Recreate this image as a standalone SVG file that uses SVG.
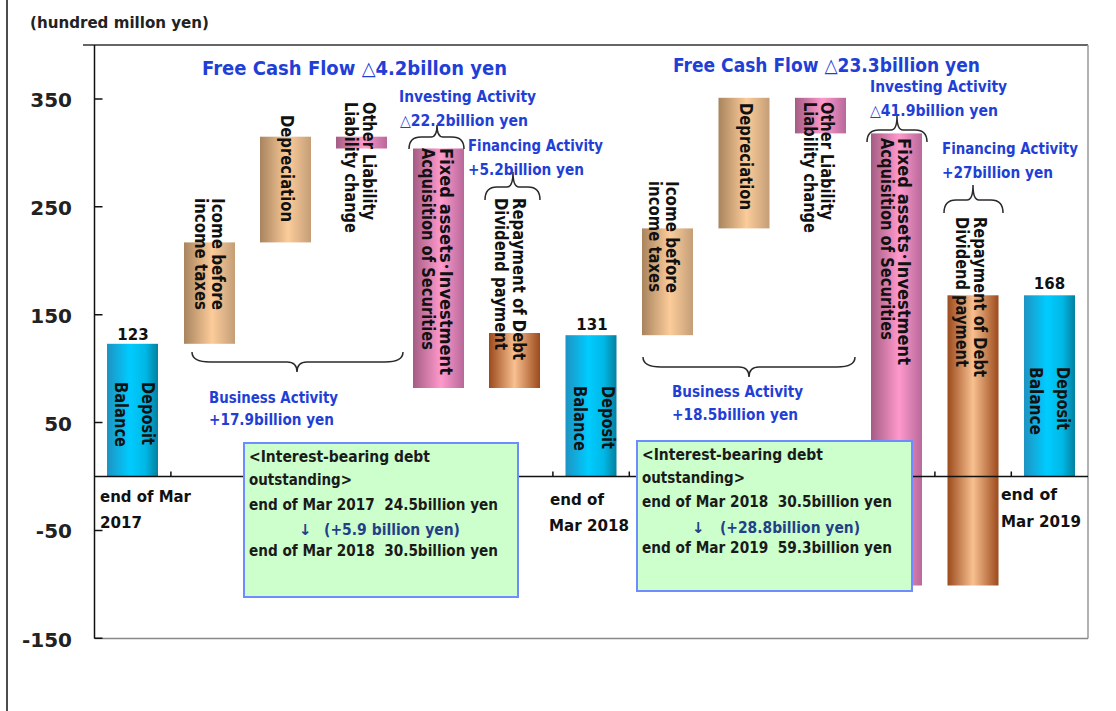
<svg xmlns="http://www.w3.org/2000/svg" width="1116" height="711" viewBox="0 0 1116 711">
<defs>
<linearGradient id="gCyan" x1="0" y1="0" x2="1" y2="0"><stop offset="0" stop-color="#1e93c2"/><stop offset="0.45" stop-color="#00ccff"/><stop offset="0.75" stop-color="#00b8e6"/><stop offset="1" stop-color="#04809f"/></linearGradient>
<linearGradient id="gTan" x1="0" y1="0" x2="1" y2="0"><stop offset="0" stop-color="#a8845e"/><stop offset="0.55" stop-color="#fccc9a"/><stop offset="1" stop-color="#c49e78"/></linearGradient>
<linearGradient id="gPink" x1="0" y1="0" x2="1" y2="0"><stop offset="0" stop-color="#a45c84"/><stop offset="0.55" stop-color="#ff99cc"/><stop offset="1" stop-color="#b8689a"/></linearGradient>
<linearGradient id="gBrown" x1="0" y1="0" x2="1" y2="0"><stop offset="0" stop-color="#9c4a1c"/><stop offset="0.5" stop-color="#f8c090"/><stop offset="1" stop-color="#9c4a1c"/></linearGradient>
<style>
text{font-family:"DejaVu Sans","Noto Sans CJK JP",sans-serif;font-weight:bold;fill:#111;font-size:16px;white-space:pre}
.ax{font-size:20px;fill:#222;text-anchor:end}
.val{font-size:15px;text-anchor:middle}
.blue{fill:#1f3fd6}
.title{font-size:19px}
.bx{font-size:15px;fill:#1a1a1a}
.chg{font-size:15px;fill:#243f88}
.rl{font-size:17px}
.line{stroke:#111;stroke-width:1.5;fill:none}
.brace{stroke:#2a2a2a;stroke-width:1.5;fill:none}
.box{fill:#ccffcc;stroke:#6e8cff;stroke-width:2}
</style>
</defs>
<rect width="1116" height="711" fill="#fff"/>

<g id="frame">
<line x1="7" y1="0" x2="7" y2="711" class="line"/>
<text x="30" y="28" textLength="179" lengthAdjust="spacingAndGlyphs" style="font-size:16px;fill:#222">(hundred millon yen)</text>
<line x1="83" y1="45" x2="1088" y2="45" stroke="#333" stroke-width="1.5"/>
<line x1="1088" y1="45" x2="1088" y2="638.5" stroke="#999" stroke-width="1.5"/>
<line x1="94.5" y1="638.5" x2="1088" y2="638.5" stroke="#888" stroke-width="1.5"/>
<line x1="94.5" y1="45" x2="94.5" y2="638.5" class="line"/>
<path d="M94.5 98.9h8M94.5 206.8h8M94.5 314.7h8M94.5 422.6h8M94.5 530.4h8M94.5 638.3h8" class="line"/>
<text class="ax" x="72" y="107">350</text>
<text class="ax" x="72" y="215">250</text>
<text class="ax" x="72" y="323">150</text>
<text class="ax" x="72" y="431">50</text>
<text class="ax" x="72" y="538">-50</text>
<text class="ax" x="72" y="647">-150</text>
</g>

<g id="bars">
<g id="dep2017"><rect x="107" y="343.8" width="51" height="132.7" fill="url(#gCyan)"/></g>
<g id="inc2017"><rect x="184" y="242.4" width="51" height="101.4" fill="url(#gTan)"/></g>
<g id="dpr2017"><rect x="260" y="136.7" width="51" height="105.7" fill="url(#gTan)"/></g>
<g id="oth2017"><rect x="336" y="136.7" width="51" height="11.8" fill="url(#gPink)"/></g>
<g id="fix2017"><rect x="413" y="148.5" width="51" height="239.5" fill="url(#gPink)"/></g>
<g id="rep2017"><rect x="489" y="333" width="51" height="55" fill="url(#gBrown)"/></g>
<g id="dep2018"><rect x="565.5" y="335.2" width="51" height="141.3" fill="url(#gCyan)"/></g>
<g id="inc2018"><rect x="642" y="228.4" width="51" height="106.8" fill="url(#gTan)"/></g>
<g id="dpr2018"><rect x="718.5" y="97.8" width="51" height="130.6" fill="url(#gTan)"/></g>
<g id="oth2018"><rect x="795" y="97.8" width="51" height="35.6" fill="url(#gPink)"/></g>
<g id="fix2018"><rect x="871" y="133.4" width="51" height="452.1" fill="url(#gPink)"/></g>
<g id="rep2019"><rect x="947.5" y="295.3" width="51" height="290.2" fill="url(#gBrown)"/></g>
<g id="dep2019"><rect x="1024" y="295.3" width="51" height="181.2" fill="url(#gCyan)"/></g>
</g>

<g id="xaxis">
<line x1="94.5" y1="476.5" x2="1088" y2="476.5" class="line"/>
<path d="M170.9 476.5v-5M247.3 476.5v-5M323.7 476.5v-5M400.1 476.5v-5M476.5 476.5v-5M552.9 476.5v-5M629.3 476.5v-5M705.7 476.5v-5M782.1 476.5v-5M858.5 476.5v-5M934.9 476.5v-5M1011.3 476.5v-5" class="line"/>
</g>

<g id="barlabels">
<text class="val" x="133" y="340">123</text>
<text class="val" x="592" y="330">131</text>
<text class="val" x="1049.5" y="289">168</text>
<g transform="translate(142,382) rotate(90)"><text class="rl" textLength="63" lengthAdjust="spacingAndGlyphs">Deposit</text><text class="rl" y="27" textLength="65" lengthAdjust="spacingAndGlyphs">Balance</text></g>
<g transform="translate(212,198) rotate(90)"><text class="rl" textLength="112" lengthAdjust="spacingAndGlyphs">Icome before</text><text class="rl" y="17" textLength="112" lengthAdjust="spacingAndGlyphs">income taxes</text></g>
<g transform="translate(281,115) rotate(90)"><text class="rl" textLength="107" lengthAdjust="spacingAndGlyphs">Depreciation</text></g>
<g transform="translate(363,102) rotate(90)"><text class="rl" textLength="118" lengthAdjust="spacingAndGlyphs">Other Liability</text><text class="rl" y="18" textLength="131" lengthAdjust="spacingAndGlyphs">Liability change</text></g>
<g transform="translate(440,148) rotate(90)"><text class="rl" textLength="227" lengthAdjust="spacingAndGlyphs">Fixed assets･Investment</text><text class="rl" y="18" textLength="202" lengthAdjust="spacingAndGlyphs">Acquisition of Securities</text></g>
<g transform="translate(513,198) rotate(90)"><text class="rl" textLength="162" lengthAdjust="spacingAndGlyphs">Repayment of Debt</text><text class="rl" y="18" textLength="152" lengthAdjust="spacingAndGlyphs">Dividend payment</text></g>
<g transform="translate(602,386) rotate(90)"><text class="rl" textLength="63" lengthAdjust="spacingAndGlyphs">Deposit</text><text class="rl" y="28" textLength="65" lengthAdjust="spacingAndGlyphs">Balance</text></g>
<g transform="translate(666,181) rotate(90)"><text class="rl" textLength="112" lengthAdjust="spacingAndGlyphs">Icome before</text><text class="rl" y="17" textLength="111" lengthAdjust="spacingAndGlyphs">income taxes</text></g>
<g transform="translate(740,103) rotate(90)"><text class="rl" textLength="107" lengthAdjust="spacingAndGlyphs">Depreciation</text></g>
<g transform="translate(821,102) rotate(90)"><text class="rl" textLength="118" lengthAdjust="spacingAndGlyphs">Other Liability</text><text class="rl" y="17" textLength="131" lengthAdjust="spacingAndGlyphs">Liability change</text></g>
<g transform="translate(898,138) rotate(90)"><text class="rl" textLength="227" lengthAdjust="spacingAndGlyphs">Fixed assets･Investment</text><text class="rl" y="17" textLength="202" lengthAdjust="spacingAndGlyphs">Acquisition of Securities</text></g>
<g transform="translate(974,217) rotate(90)"><text class="rl" textLength="160" lengthAdjust="spacingAndGlyphs">Repayment of Debt</text><text class="rl" y="18" textLength="150" lengthAdjust="spacingAndGlyphs">Dividend payment</text></g>
<g transform="translate(1057,367) rotate(90)"><text class="rl" textLength="63" lengthAdjust="spacingAndGlyphs">Deposit</text><text class="rl" y="27" textLength="68" lengthAdjust="spacingAndGlyphs">Balance</text></g>
</g>

<g id="connectors">
<path class="brace" d="M409 149Q409 137 421 137L431 137Q437 137 437 125Q437 137 443 137L452 137Q464 137 464 149"/>
<path class="brace" d="M485 200Q485 187 497 187L507 187Q513 187 513 172Q513 187 519 187L528 187Q540 187 540 200"/>
<path class="brace" d="M867 142Q867 130 879 130L891 130Q897 130 897 116Q897 130 903 130L915 130Q927 130 927 142"/>
<path class="brace" d="M944 213Q944 200 956 200L967 200Q973 200 973 185Q973 200 979 200L991 200Q1003 200 1003 213"/>
<path class="brace" d="M192 352Q192 362 210 362L287 362Q297 362 297 372Q297 362 307 362L385 362Q403 362 403 352"/>
<path class="brace" d="M643 357Q643 367 661 367L739 367Q749 367 749 377Q749 367 759 367L837 367Q855 367 855 357"/>
</g>

<g id="annotations">
<text class="blue title" x="202" y="75" textLength="305" lengthAdjust="spacingAndGlyphs">Free Cash Flow △4.2billon yen</text>
<text class="blue title" x="673" y="72" textLength="307" lengthAdjust="spacingAndGlyphs">Free Cash Flow △23.3billion yen</text>
<text class="blue" x="399" y="102" textLength="137" lengthAdjust="spacingAndGlyphs">Investing Activity</text>
<text class="blue" x="400" y="126" textLength="128" lengthAdjust="spacingAndGlyphs">△22.2billion yen</text>
<text class="blue" x="468" y="151" textLength="135" lengthAdjust="spacingAndGlyphs">Financing Activity</text>
<text class="blue" x="468" y="175" textLength="116" lengthAdjust="spacingAndGlyphs">+5.2billion yen</text>
<text class="blue" x="870" y="92" textLength="137" lengthAdjust="spacingAndGlyphs">Investing Activity</text>
<text class="blue" x="870" y="116" textLength="128" lengthAdjust="spacingAndGlyphs">△41.9billion yen</text>
<text class="blue" x="942" y="154" textLength="136" lengthAdjust="spacingAndGlyphs">Financing Activity</text>
<text class="blue" x="942" y="178" textLength="111" lengthAdjust="spacingAndGlyphs">+27billion yen</text>
<text class="blue" x="209" y="403" textLength="129" lengthAdjust="spacingAndGlyphs">Business Activity</text>
<text class="blue" x="209" y="425" textLength="125" lengthAdjust="spacingAndGlyphs">+17.9billion yen</text>
<text class="blue" x="672" y="397" textLength="131" lengthAdjust="spacingAndGlyphs">Business Activity</text>
<text class="blue" x="672" y="420" textLength="126" lengthAdjust="spacingAndGlyphs">+18.5billion yen</text>
</g>

<g id="categories">
<text x="100" y="502" textLength="91" lengthAdjust="spacingAndGlyphs">end of Mar</text>
<text x="100" y="528" textLength="42" lengthAdjust="spacingAndGlyphs">2017</text>
<text x="550" y="505" textLength="54" lengthAdjust="spacingAndGlyphs">end of</text>
<text x="549" y="531" textLength="80" lengthAdjust="spacingAndGlyphs">Mar 2018</text>
<text x="1001" y="500" textLength="56" lengthAdjust="spacingAndGlyphs">end of</text>
<text x="1001" y="527" textLength="80" lengthAdjust="spacingAndGlyphs">Mar 2019</text>
</g>

<g id="debtbox2018">
<rect class="box" x="244" y="443" width="274" height="154"/>
<text class="bx" x="249" y="462" textLength="181" lengthAdjust="spacingAndGlyphs">&lt;Interest-bearing debt</text>
<text class="bx" x="249" y="485" textLength="103" lengthAdjust="spacingAndGlyphs">outstanding&gt;</text>
<text class="bx" x="249" y="510" textLength="249" lengthAdjust="spacingAndGlyphs">end of Mar 2017  24.5billion yen</text>
<text class="chg" x="299" y="535">↓</text>
<text class="chg" x="324" y="535" textLength="136" lengthAdjust="spacingAndGlyphs">(+5.9 billion yen)</text>
<text class="bx" x="249" y="556" textLength="249" lengthAdjust="spacingAndGlyphs">end of Mar 2018  30.5billion yen</text>
</g>

<g id="debtbox2019">
<rect class="box" x="637" y="441" width="275" height="150"/>
<text class="bx" x="642" y="460" textLength="181" lengthAdjust="spacingAndGlyphs">&lt;Interest-bearing debt</text>
<text class="bx" x="642" y="483" textLength="103" lengthAdjust="spacingAndGlyphs">outstanding&gt;</text>
<text class="bx" x="642" y="507" textLength="250" lengthAdjust="spacingAndGlyphs">end of Mar 2018  30.5billion yen</text>
<text class="chg" x="692" y="533">↓</text>
<text class="chg" x="720" y="533" textLength="140" lengthAdjust="spacingAndGlyphs">(+28.8billion yen)</text>
<text class="bx" x="642" y="553" textLength="250" lengthAdjust="spacingAndGlyphs">end of Mar 2019  59.3billion yen</text>
</g>
</svg>
